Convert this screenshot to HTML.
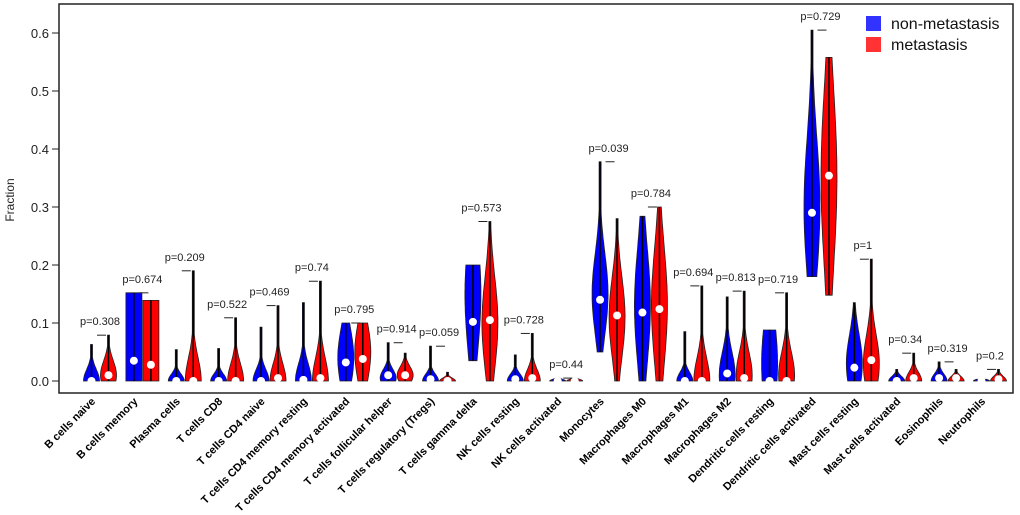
<!DOCTYPE html>
<html><head><meta charset="utf-8"><style>
body{margin:0;background:#fff;width:1020px;height:515px;overflow:hidden}
svg{display:block;font-family:"Liberation Sans",Arial,sans-serif}
</style></head><body>
<svg id="chart" width="1020" height="515"></svg>
<script>
const categories=["B cells naive","B cells memory","Plasma cells","T cells CD8","T cells CD4 naive","T cells CD4 memory resting","T cells CD4 memory activated","T cells follicular helper","T cells regulatory (Tregs)","T cells gamma delta","NK cells resting","NK cells activated","Monocytes","Macrophages M0","Macrophages M1","Macrophages M2","Dendritic cells resting","Dendritic cells activated","Mast cells resting","Mast cells activated","Eosinophils","Neutrophils"];
const pValues=["0.308","0.674","0.209","0.522","0.469","0.74","0.795","0.914","0.059","0.573","0.728","0.44","0.039","0.784","0.694","0.813","0.719","0.729","1","0.34","0.319","0.2"];
const blueMin=[0,0,0,0,0,0,0,0,0,0.035,0,0,0.05,0,0,0,0,0.18,0,0,0,0];
const blueMax=[0.063,0.152,0.054,0.056,0.093,0.135,0.1,0.066,0.06,0.2,0.045,0.005,0.378,0.284,0.085,0.145,0.088,0.605,0.135,0.02,0.033,0.003];
const blueMed=[0,0.035,0,0,0,0.002,0.032,0.01,0.003,0.102,0.003,0,0.14,0.118,0,0.013,0,0.29,0.023,0,0.005,0];
const blueMode=[0,0.08,0,0,0,0,0.04,0.005,0,0.15,0,0,0.15,0.13,0,0.01,0.03,0.3,0.03,0,0,0];
const blueSd=[0.02,1,0.012,0.012,0.02,0.03,0.05,0.015,0.012,0.1,0.012,0.003,0.07,0.1,0.015,0.04,0.08,0.12,0.05,0.008,0.012,0.003];
const redMin=[0,0,0,0,0,0,0,0,0,0,0,0,0,0,0,0,0,0.148,0,0,0,0];
const redMax=[0.079,0.139,0.19,0.109,0.13,0.172,0.1,0.048,0.015,0.275,0.082,0.005,0.28,0.3,0.164,0.155,0.152,0.558,0.21,0.048,0.02,0.02];
const redMed=[0.01,0.028,0,0,0.005,0.005,0.038,0.01,0,0.105,0.005,0,0.113,0.124,0,0.005,0,0.354,0.036,0.005,0.005,0.003];
const redMode=[0.01,0.07,0,0,0,0,0.05,0.01,0,0.1,0,0,0.11,0.13,0,0.01,0.01,0.35,0.03,0,0,0];
const redSd=[0.025,1,0.04,0.03,0.03,0.04,0.05,0.015,0.005,0.08,0.02,0.003,0.07,0.1,0.04,0.04,0.04,0.15,0.05,0.015,0.008,0.008];
const yTicks=[0,0.1,0.2,0.3,0.4,0.5,0.6];

const NS="http://www.w3.org/2000/svg";
const svg=document.getElementById('chart');
const y=v=>381-v*580;
const x=i=>100+i*42.38;
function mk(t,a,p){const e=document.createElementNS(NS,t);for(const k in a)e.setAttribute(k,a[k]);(p||svg).appendChild(e);return e;}

const frame=mk('rect',{x:59,y:4,width:954,height:389,fill:'none',stroke:'#222','stroke-width':1.5});


const yaxis=mk('g',{});


yTicks.forEach(t=>{
  mk('line',{x1:52,x2:59,y1:y(t),y2:y(t),stroke:'#222'},yaxis);
  const tx=mk('text',{x:49,y:y(t)+5,'text-anchor':'end','font-size':13,fill:'#222'},yaxis);
  tx.textContent=t.toFixed(1);
  
  
});
const yt=mk('text',{x:0,y:0,transform:'translate(14,200) rotate(-90)','text-anchor':'middle','font-size':12,fill:'#222'});
yt.textContent='Fraction';



function violin(cx,mn,mx,md,mode,sd,color,name){
  const g=mk('g',{});
  
  
  const W=8,N=40;let L=[],R=[];
  for(let k=0;k<=N;k++){const v=mn+(mx-mn)*k/N;let w=W*Math.exp(-0.5*Math.pow((v-mode)/sd,2));if(w<1)w=1;L.push([cx-w,y(v)]);R.push([cx+w,y(v)]);}
  const pts=L.concat(R.reverse()).map(p=>p[0].toFixed(1)+','+p[1].toFixed(1)).join(' ');
  mk('polygon',{points:pts,fill:color,stroke:'#222','stroke-width':0.8},g);
  mk('line',{x1:cx,x2:cx,y1:y(mn),y2:y(mx),stroke:'#000','stroke-width':1.5},g);
  mk('circle',{cx:cx,cy:y(md),r:4,fill:'#fff'},g);
}
categories.forEach((c,i)=>{
  const cx=x(i);
  violin(cx-8.5,blueMin[i],blueMax[i],blueMed[i],blueMode[i],blueSd[i],'#0000ff','violin-nonmetastasis');
  violin(cx+8.5,redMin[i],redMax[i],redMed[i],redMode[i],redSd[i],'#ff0000','violin-metastasis');
  const top=Math.max(blueMax[i],redMax[i]);
  const br=mk('line',{x1:cx-3,x2:cx+6,y1:y(top),y2:y(top),stroke:'#222','stroke-width':1});
  
  
  const pt=mk('text',{x:cx,y:y(top)-10,'text-anchor':'middle','font-size':11,fill:'#222'});
  pt.textContent='p='+pValues[i];
  
  
  const lt=mk('text',{x:0,y:0,transform:'translate('+(cx-4)+',402) rotate(-45)','text-anchor':'end','font-size':11,'font-weight':'bold',fill:'#000'});
  lt.textContent=c;
  
  
});
const lg=mk('g',{});


mk('rect',{x:866,y:16,width:15,height:15,fill:'#3333ff'},lg);
mk('rect',{x:866,y:37,width:15,height:15,fill:'#ff3333'},lg);
const l1=mk('text',{x:891,y:29,'font-size':16,fill:'#111'},lg);l1.textContent='non-metastasis';


const l2=mk('text',{x:891,y:50,'font-size':16,fill:'#111'},lg);l2.textContent='metastasis';


</script>
</body></html>
